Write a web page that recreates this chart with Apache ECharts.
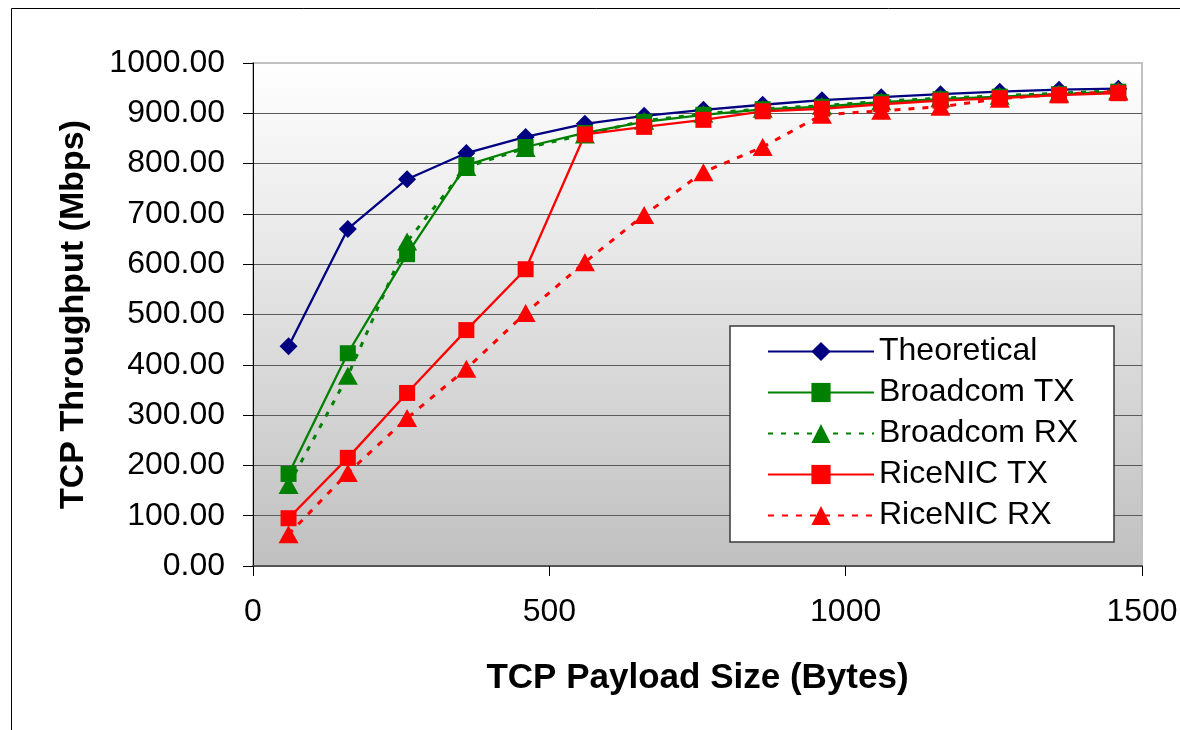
<!DOCTYPE html>
<html>
<head>
<meta charset="utf-8">
<script src="https://cdn.jsdelivr.net/npm/echarts@6/dist/echarts.min.js"></script>
<style>
html,body{margin:0;padding:0;background:#fff;}
#chart{width:1180px;height:730px;}
</style>
</head>
<body>
<div id="chart"></div>
<script>
var payload = [60, 160, 260, 360, 460, 560, 660, 760, 860, 960, 1060, 1160, 1260, 1360, 1460];
var theoretical = [437, 670, 769, 821, 853, 879, 895, 907, 917, 926, 932, 938, 943, 947, 949];
var broadcomTX = [183, 423, 620, 797, 833, 861, 883, 897, 908, 913, 922, 928, 933, 938, 943];
var broadcomRX = [161, 378, 645, 793, 831, 858, 885, 899, 909, 915, 924, 930, 935, 940, 945];
var riceTX = [95, 215, 344, 469, 590, 858, 873, 887, 904, 909, 918, 925, 930, 936, 940];
var riceRX = [63, 185, 294, 392, 503, 604, 698, 783, 833, 897, 905, 913, 929, 938, 943];
var seriesNames = ['Theoretical', 'Broadcom TX', 'Broadcom RX', 'RiceNIC TX', 'RiceNIC RX'];
var xTitle = 'TCP Payload Size (Bytes)';
var yTitle = 'TCP Throughput (Mbps)';

function pairs(vals) {
  return payload.map(function (x, i) { return [x, vals[i]]; });
}
var FONT = '"Liberation Sans", Arial, sans-serif';
var chart = echarts.init(document.getElementById('chart'), null, {renderer: 'canvas'});
var gridColors = [];
for (var i = 0; i < 10; i++) gridColors.push('#5a5a5a');
gridColors.push('#c0c0c0');

function mkSeries(name, vals, color, symbol, size, dashed) {
  return {
    name: name,
    type: 'line',
    data: pairs(vals),
    symbol: symbol,
    symbolSize: size,
    showAllSymbol: true,
    animation: false,
    itemStyle: {color: color},
    lineStyle: {color: color, width: dashed ? 3 : 2.3, type: dashed ? dashed : 'solid'}
  };
}

chart.setOption({
  animation: false,
  backgroundColor: '#ffffff',
  graphic: [{
    type: 'rect',
    shape: {x: 11.5, y: 8.5, width: 1300, height: 900},
    style: {fill: 'none', stroke: '#000', lineWidth: 1},
    silent: true
  }],
  grid: {
    left: 253, top: 63, right: 38, bottom: 164,
    outerBoundsMode: 'none',
    containLabel: false,
    show: true,
    borderColor: '#c0c0c0',
    borderWidth: 2,
    backgroundColor: new echarts.graphic.LinearGradient(0, 0, 0, 1, [
      {offset: 0, color: '#ffffff'},
      {offset: 1, color: '#c0c0c0'}
    ])
  },
  legend: {
    orient: 'vertical',
    left: 730, top: 326,
    padding: [5, 0, 6, 37],
    itemWidth: 106,
    itemHeight: 24,
    itemGap: 0,
    backgroundColor: '#ffffff',
    borderColor: '#3a3a3a',
    borderWidth: 1.5,
    data: seriesNames,
    textStyle: {fontFamily: FONT, fontSize: 32, color: '#000', lineHeight: 41, width: 235}
  },
  xAxis: {
    type: 'value',
    min: 0, max: 1500, interval: 500,
    name: xTitle,
    nameLocation: 'middle',
    nameGap: 95,
    nameTextStyle: {fontFamily: FONT, fontSize: 35, fontWeight: 'bold', color: '#000'},
    axisLine: {show: true, onZero: false, lineStyle: {color: '#555', width: 2}},
    axisTick: {show: true, length: 10, inside: false, lineStyle: {color: '#000', width: 1}},
    axisLabel: {fontFamily: FONT, fontSize: 32, color: '#000', margin: 30,
      formatter: function (v) { return String(v); }},
    splitLine: {show: false}
  },
  yAxis: {
    type: 'value',
    min: 0, max: 1000, interval: 100,
    name: yTitle,
    nameLocation: 'middle',
    nameGap: 162,
    nameTextStyle: {fontFamily: FONT, fontSize: 34, fontWeight: 'bold', color: '#000'},
    axisLine: {show: true, lineStyle: {color: '#000', width: 1}},
    axisTick: {show: true, length: 10, inside: false, lineStyle: {color: '#000', width: 1}},
    axisLabel: {fontFamily: FONT, fontSize: 32, color: '#000', margin: 28,
      formatter: function (v) { return v.toFixed(2); }},
    splitLine: {show: true, lineStyle: {color: gridColors, width: 1.2}}
  },
  series: [
    mkSeries(seriesNames[0], theoretical, '#000080', 'diamond', [18, 18], null),
    mkSeries(seriesNames[1], broadcomTX, '#008000', 'rect', [16, 16], null),
    mkSeries(seriesNames[2], broadcomRX, '#008000', 'triangle', [20, 18], [5, 8]),
    mkSeries(seriesNames[3], riceTX, '#ff0000', 'rect', [16, 16], null),
    mkSeries(seriesNames[4], riceRX, '#ff0000', 'triangle', [20, 18], [6, 8])
  ]
});
</script>
</body>
</html>
